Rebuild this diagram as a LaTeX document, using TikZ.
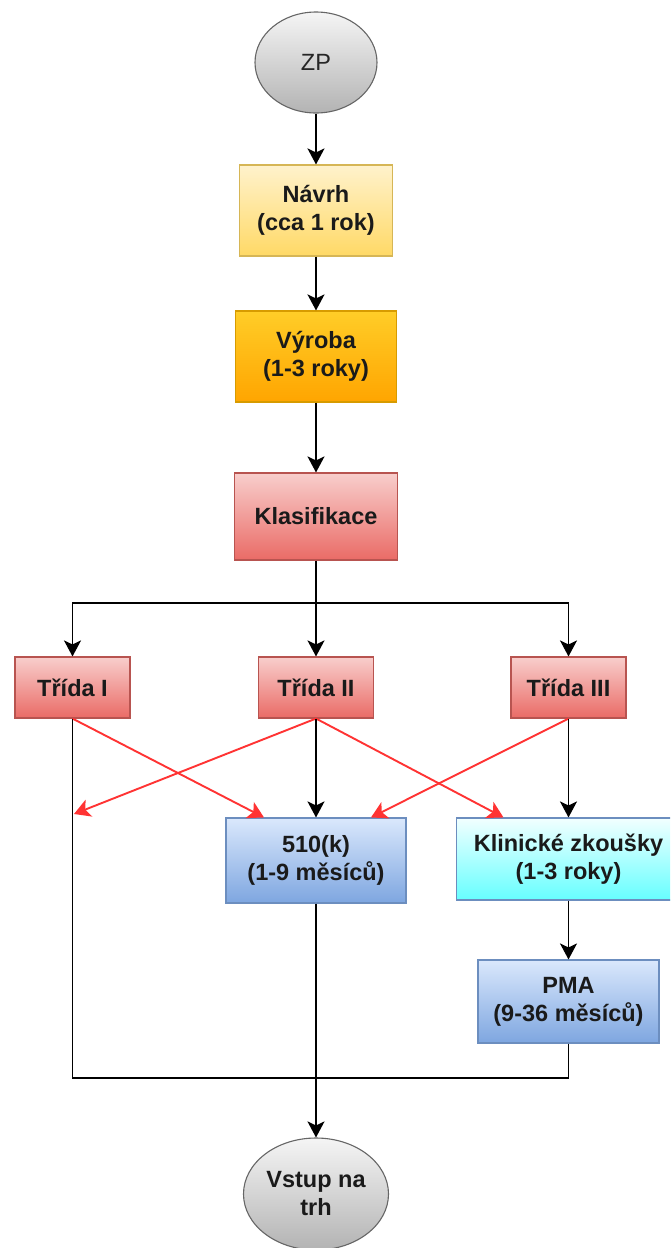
\documentclass[tikz,border=0pt]{standalone}
\usepackage{fontspec}
\setmainfont{Liberation Sans}
\usetikzlibrary{shapes.geometric,arrows.meta}

\definecolor{grayTop}{HTML}{F5F5F5}
\definecolor{grayBot}{HTML}{B3B3B3}
\definecolor{grayLine}{HTML}{666666}
\definecolor{yelTop}{HTML}{FFF2CC}
\definecolor{yelBot}{HTML}{FFD966}
\definecolor{yelLine}{HTML}{D6B656}
\definecolor{orTop}{HTML}{FFCD28}
\definecolor{orBot}{HTML}{FFA500}
\definecolor{orLine}{HTML}{D79B00}
\definecolor{redTop}{HTML}{F8CECC}
\definecolor{redBot}{HTML}{EA6B66}
\definecolor{redLine}{HTML}{B85450}
\definecolor{bluTop}{HTML}{DAE8FC}
\definecolor{bluBot}{HTML}{7EA6E0}
\definecolor{bluLine}{HTML}{6C8EBF}
\definecolor{cyTop}{HTML}{F2FFFF}
\definecolor{cyBot}{HTML}{66FFFF}
\definecolor{redArrow}{HTML}{FF3333}
\definecolor{txt}{HTML}{1A1A1A}

\begin{document}
\begin{tikzpicture}[x=1pt,y=-1pt,
  base/.style={draw, line width=1.1pt, inner sep=0pt, align=center,
    font=\bfseries\fontsize{23.5}{28}\selectfont, text=txt},
  oval/.style={base, ellipse, draw=grayLine, top color=grayTop, bottom color=grayBot},
  yelbox/.style={base, draw=yelLine, top color=yelTop, bottom color=yelBot},
  orbox/.style={base, draw=orLine, top color=orTop, bottom color=orBot},
  redbox/.style={base, draw=redLine, top color=redTop, bottom color=redBot},
  blubox/.style={base, draw=bluLine, top color=bluTop, bottom color=bluBot},
  cybox/.style={base, draw=bluLine, top color=cyTop, bottom color=cyBot},
  wire/.style={draw=black, line width=1.9pt},
  blk/.style={wire, -{Stealth[length=16pt,width=17pt,inset=4pt]}},
  redarr/.style={draw=redArrow, line width=1.9pt, -{Stealth[length=16pt,width=18pt,inset=4pt]}}
]
\useasboundingbox (0,0) rectangle (670,1248);
\fill[white] (0,0) rectangle (670,1248);
\clip (0,0) rectangle (670,1248);

% nodes
\node[oval, minimum width=122pt, minimum height=101pt,
      font=\fontsize{23.5}{28}\selectfont, text=black!85] (zp) at (316,62.5) {ZP};
\node[yelbox, minimum width=153pt, minimum height=91pt] (navrh) at (316,210.5) {Návrh\\(cca 1 rok)};
\node[orbox, minimum width=161pt, minimum height=91pt] (vyroba) at (316,356.5) {Výroba\\(1-3 roky)};
\node[redbox, minimum width=163pt, minimum height=87pt] (klas) at (316,516.5) {Klasifikace};
\node[redbox, minimum width=115pt, minimum height=61pt] (t1) at (72.5,687.5) {Třída I};
\node[redbox, minimum width=115pt, minimum height=61pt] (t2) at (316,687.5) {Třída II};
\node[redbox, minimum width=115pt, minimum height=61pt] (t3) at (568.5,687.5) {Třída III};
\node[blubox, minimum width=180pt, minimum height=85pt] (k510) at (316,860.5) {510(k)\\(1-9 měsíců)};
\node[cybox, minimum width=224pt, minimum height=82pt] (klin) at (568.5,859) {Klinické zkoušky\\(1-3 roky)};
\node[blubox, minimum width=181pt, minimum height=83pt] (pma) at (568.5,1001.5) {PMA\\(9-36 měsíců)};
\node[oval, minimum width=145pt, minimum height=112pt] (vstup) at (316,1194) {Vstup na\\trh};

\coordinate (split) at (316,603);
\coordinate (merge) at (316,1078);
\coordinate (leftjoin) at (74,814);

% main chain
\draw[blk] (zp) -- (navrh);
\draw[blk] (navrh) -- (vyroba);
\draw[blk] (vyroba) -- (klas);
\draw[blk] (klas) -- (t2);
\draw[blk] (split) -| (t1);
\draw[blk] (split) -| (t3);

% classification paths
\draw[redarr] (t1.south) -- ([xshift=-52pt]k510.north);
\draw[redarr] (t2.south) -- (leftjoin);
\draw[redarr] (t2.south) -- ([xshift=-65pt]klin.north);
\draw[redarr] (t3.south) -- ([xshift=55pt]k510.north);
\draw[blk] (t2) -- (k510);
\draw[blk] (t3) -- (klin);
\draw[blk] (klin) -- (pma);

% to market
\draw[wire] (t1.south) |- (merge);
\draw[wire] (pma.south) |- (merge);
\draw[blk] (k510) -- (vstup);
\end{tikzpicture}
\end{document}
